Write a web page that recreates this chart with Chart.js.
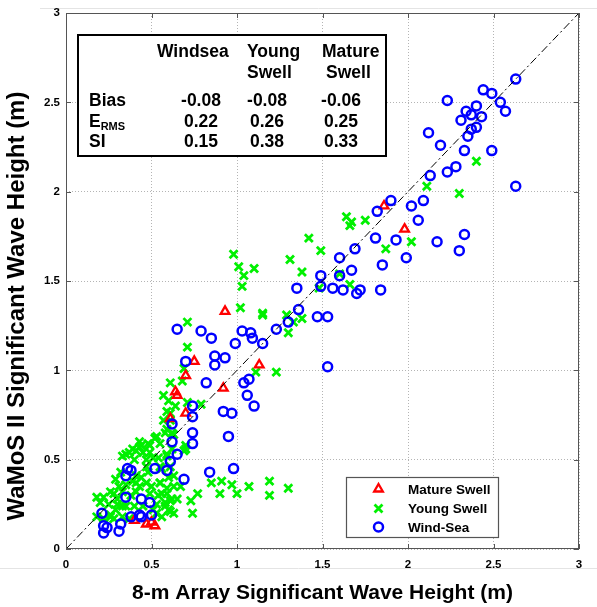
<!DOCTYPE html>
<html lang="en">
<head>
<meta charset="UTF-8">
<title>WaMoS II vs 8-m Array</title>
<script src="https://cdn.jsdelivr.net/npm/chart.js"></script>
<style>
  html, body { margin: 0; padding: 0; background: #fff; }
  #wrap { width: 597px; height: 607px; }
</style>
</head>
<body>
<div id="wrap"><canvas id="myChart" width="597" height="607"></canvas></div>
<script>
  // values, [x, y] in metres
  const windSea = [
    [2.63,2.63],[2.44,2.57],[2.49,2.55],[2.23,2.51],[2.54,2.50],[2.40,2.48],[2.57,2.45],[2.34,2.45],
    [2.37,2.43],[2.43,2.42],[2.31,2.40],[2.40,2.36],[2.37,2.35],[2.12,2.33],[2.35,2.31],[2.19,2.26],
    [2.33,2.23],[2.49,2.23],[2.28,2.14],[2.23,2.11],[2.13,2.09],[2.63,2.03],
    [1.90,1.95],[2.09,1.95],[2.02,1.92],[1.82,1.89],[2.06,1.84],[2.33,1.76],[2.17,1.72],[2.30,1.67],
    [1.81,1.74],[1.93,1.73],[1.69,1.68],[1.60,1.63],[1.99,1.63],[1.85,1.59],[1.67,1.56],[1.60,1.53],
    [1.49,1.53],[1.49,1.47],[1.56,1.46],[1.62,1.45],[1.70,1.43],[1.72,1.45],[1.84,1.45],[1.35,1.46],
    [1.36,1.34],[1.30,1.27],[1.23,1.23],[1.47,1.30],[1.53,1.30],[1.53,1.02],
    [1.15,1.15],[1.03,1.22],[1.08,1.21],[1.09,1.18],[0.99,1.15],[0.85,1.18],[0.79,1.22],[0.65,1.23],
    [0.87,1.08],[0.93,1.07],[0.87,1.03],[0.70,1.05],[0.82,0.93],[1.04,0.93],[1.07,0.95],[1.06,0.86],
    [1.10,0.80],[0.74,0.80],[0.92,0.77],[0.97,0.76],[0.95,0.63],[0.74,0.74],[0.62,0.70],[0.74,0.65],
    [0.74,0.59],[0.62,0.60],[0.65,0.53],[0.61,0.49],[0.59,0.44],[0.52,0.45],[0.84,0.43],[0.98,0.45],
    [0.69,0.39],[0.36,0.45],[0.38,0.44],[0.35,0.41],[0.44,0.28],[0.35,0.29],[0.49,0.26],[0.21,0.20],
    [0.38,0.18],[0.43,0.19],[0.44,0.18],[0.50,0.19],[0.32,0.14],[0.31,0.10],[0.22,0.13],[0.24,0.12],
    [0.22,0.09]
  ];
  const youngSwell = [
    [2.40,2.17],[2.11,2.03],[2.30,1.99],[1.64,1.86],[1.67,1.83],[1.66,1.81],[1.75,1.84],[1.42,1.74],
    [1.49,1.67],[1.87,1.68],[2.02,1.72],[1.38,1.55],[1.60,1.54],[1.66,1.48],[1.48,1.46],[1.31,1.62],
    [1.29,1.31],[1.33,1.27],[1.38,1.29],[1.30,1.21],[1.15,1.32],[1.15,1.31],[1.11,0.99],[1.23,0.99],
    [0.98,1.65],[1.01,1.58],[1.10,1.57],[1.04,1.53],[1.03,1.47],[1.02,1.35],[0.71,1.27],[0.71,1.13],
    [0.69,1.01],[0.61,0.93],[0.68,0.94],[0.57,0.86],[0.60,0.83],[0.64,0.80],[0.71,0.82],[0.79,0.81],
    [0.59,0.77],[0.61,0.72],[0.58,0.65],[0.63,0.64],[0.52,0.62],[0.48,0.59],[0.44,0.58],[0.41,0.55],
    [0.35,0.53],[0.70,0.58],[0.69,0.55],[0.59,0.52],
    [0.85,0.37],[0.91,0.38],[0.97,0.36],[0.90,0.31],[1.00,0.31],[1.07,0.35],[1.19,0.38],[1.19,0.30],
    [1.30,0.34],[0.77,0.31],[0.73,0.27],[0.74,0.20],[0.65,0.28],[0.58,0.24],[0.61,0.27],[0.56,0.31],
    [0.61,0.21],
    [0.53,0.63],[0.49,0.58],[0.43,0.57],[0.37,0.54],[0.33,0.52],[0.40,0.50],[0.47,0.50],[0.54,0.51],
    [0.59,0.53],[0.62,0.56],[0.61,0.46],[0.56,0.45],[0.48,0.43],[0.44,0.40],[0.39,0.38],[0.35,0.36],
    [0.43,0.35],[0.50,0.35],[0.55,0.37],[0.60,0.40],[0.63,0.35],[0.59,0.31],[0.54,0.30],[0.49,0.31],
    [0.41,0.32],[0.33,0.32],[0.28,0.31],[0.22,0.29],[0.20,0.26],[0.25,0.25],[0.30,0.25],[0.35,0.24],
    [0.40,0.24],[0.53,0.25],[0.58,0.26],[0.62,0.28],[0.60,0.22],[0.26,0.19],[0.28,0.17],[0.22,0.17],
    [0.18,0.18],[0.33,0.18],[0.37,0.17],[0.53,0.20],[0.56,0.18],[0.63,0.20],
    [0.55,0.59],[0.49,0.54],[0.62,0.65],[0.59,0.67],[0.61,0.76],[0.57,0.72],[0.18,0.29],[0.29,0.22],
    [0.26,0.18],[0.70,0.56],
    [0.43,0.60],[0.47,0.46],[0.41,0.37],[0.31,0.35],[0.26,0.32],[0.55,0.37],[0.63,0.41],[0.67,0.35],
    [0.51,0.22],[0.45,0.24],[0.33,0.24],[0.30,0.28],[0.38,0.30],[0.55,0.46],[0.51,0.51],[0.45,0.54],
    [0.39,0.56],[0.47,0.37],[0.59,0.34],[0.32,0.43],[0.29,0.39],[0.41,0.41]
  ];
  const matureSwell = [
    [1.86,1.92],[1.98,1.79],[0.93,1.33],[0.75,1.05],[1.13,1.03],[0.70,0.97],[0.64,0.88],[0.65,0.86],
    [0.92,0.90],[0.70,0.76],[0.61,0.73],[0.40,0.16],[0.47,0.14],[0.50,0.15],[0.52,0.13]
  ];
  const oneToOne = [[0, 0], [3, 3]];

  const seriesNames = ['Mature Swell', 'Young Swell', 'Wind-Sea'];
  const axisTicks = [0, 0.5, 1, 1.5, 2, 2.5, 3];
  const xTitle = '8-m Array Significant Wave Height (m)';
  const yTitle = 'WaMoS II Significant Wave Height (m)';

  // statistics table
  const tableHeads = [['Windsea'], ['Young', 'Swell'], ['Mature', 'Swell']];
  const rowNames = ['Bias', 'E', 'SI'];
  const biasVals = ['-0.08', '-0.08', '-0.06'];
  const ermsVals = ['0.22', '0.26', '0.25'];
  const siVals = ['0.15', '0.38', '0.33'];

  const FONT = '"Liberation Sans", Arial, sans-serif';
  const toXY = arr => arr.map(p => ({ x: p[0], y: p[1] }));

  const styles = {
    mature: { style: 'triangle', color: '#ff0000', r: 5, w: 2.3 },
    young: { style: 'crossRot', color: '#00f000', r: 5.6, w: 2.8 },
    wind: { style: 'circle', color: '#0000ff', r: 4.5, w: 2.5 }
  };

  function drawMarker(ctx, s, x, y) {
    ctx.save();
    ctx.strokeStyle = s.color;
    ctx.lineWidth = s.w;
    ctx.beginPath();
    if (s.style === 'circle') {
      ctx.arc(x, y, s.r, 0, Math.PI * 2);
    } else if (s.style === 'triangle') {
      for (let k = 0; k < 3; k++) {
        const a = k * 2 * Math.PI / 3;
        const px = x + Math.sin(a) * s.r, py = y - Math.cos(a) * s.r;
        k === 0 ? ctx.moveTo(px, py) : ctx.lineTo(px, py);
      }
      ctx.closePath();
    } else {
      const d = s.r * Math.SQRT1_2;
      ctx.moveTo(x - d, y - d); ctx.lineTo(x + d, y + d);
      ctx.moveTo(x + d, y - d); ctx.lineTo(x - d, y + d);
    }
    ctx.stroke();
    ctx.restore();
  }

  const extras = {
    id: 'extras',
    beforeDraw(chart) {
      const ctx = chart.ctx;
      ctx.save();
      ctx.strokeStyle = '#e4e4e4';
      ctx.lineWidth = 1;
      ctx.beginPath();
      ctx.moveTo(40, 8.5); ctx.lineTo(597, 8.5);
      ctx.moveTo(0, 568.5); ctx.lineTo(597, 568.5);
      ctx.stroke();
      ctx.restore();
    },
    afterDraw(chart) {
      const ctx = chart.ctx;
      const a = chart.chartArea;
      const xs = chart.scales.x, ys = chart.scales.y;

      // frame and inward ticks
      ctx.save();
      ctx.strokeStyle = '#555';
      ctx.lineWidth = 1;
      ctx.strokeRect(a.left + 0.5, a.top + 0.5, a.right - a.left - 1, a.bottom - a.top - 1);
      ctx.beginPath();
      axisTicks.forEach(t => {
        const px = Math.round(xs.getPixelForValue(t)) + 0.5;
        const py = Math.round(ys.getPixelForValue(t)) + 0.5;
        ctx.moveTo(px, a.bottom); ctx.lineTo(px, a.bottom - 5);
        ctx.moveTo(px, a.top); ctx.lineTo(px, a.top + 5);
        ctx.moveTo(a.left, py); ctx.lineTo(a.left + 5, py);
        ctx.moveTo(a.right, py); ctx.lineTo(a.right - 5, py);
      });
      ctx.stroke();
      ctx.restore();

      // y axis title (sits a little below the axis centre in the original)
      ctx.save();
      ctx.translate(24, 306);
      ctx.rotate(-Math.PI / 2);
      ctx.font = 'bold 24px ' + FONT;
      ctx.fillStyle = '#000';
      ctx.textAlign = 'center';
      ctx.textBaseline = 'alphabetic';
      ctx.fillText(yTitle, 0, 0);
      ctx.restore();

      // statistics table
      ctx.save();
      ctx.fillStyle = '#fff';
      ctx.fillRect(77, 34, 310, 123);
      ctx.strokeStyle = '#000';
      ctx.lineWidth = 2;
      ctx.strokeRect(78, 35, 308, 121);
      ctx.fillStyle = '#000';
      ctx.textBaseline = 'alphabetic';
      ctx.font = 'bold 17.5px ' + FONT;
      ctx.textAlign = 'left';
      const headX = [157, 247, 322];
      tableHeads.forEach((h, i) => {
        ctx.fillText(h[0], headX[i], 57);
        if (h[1]) ctx.fillText(h[1], i === 2 ? 326 : 247, 78);
      });
      const rowY = [106, 127, 147];
      ctx.fillText(rowNames[0], 89, rowY[0]);
      ctx.fillText(rowNames[1], 89, rowY[1]);
      const eW = ctx.measureText(rowNames[1]).width;
      ctx.fillText(rowNames[2], 89, rowY[2]);
      ctx.font = 'bold 11px ' + FONT;
      ctx.fillText('RMS', 89 + eW, rowY[1] + 3);
      ctx.font = 'bold 17.5px ' + FONT;
      ctx.textAlign = 'center';
      const colX = [201, 267, 341];
      [biasVals, ermsVals, siVals].forEach((vals, r) => {
        vals.forEach((v, c) => ctx.fillText(v, colX[c], rowY[r]));
      });
      ctx.restore();

      // legend
      ctx.save();
      ctx.fillStyle = '#fff';
      ctx.fillRect(346, 477, 153, 61);
      ctx.strokeStyle = '#555';
      ctx.lineWidth = 1.2;
      ctx.strokeRect(346.5, 477.5, 152, 60);
      const legY = [489, 508.5, 527];
      const legStyles = [styles.mature, styles.young, styles.wind];
      ctx.font = 'bold 13.5px ' + FONT;
      ctx.fillStyle = '#000';
      ctx.textBaseline = 'middle';
      ctx.textAlign = 'left';
      seriesNames.forEach((n, i) => {
        drawMarker(ctx, legStyles[i], 378.5, legY[i]);
        ctx.fillText(n, 408, legY[i] + 1);
      });
      ctx.restore();
    }
  };

  const tickFont = { family: FONT, size: 11.5, weight: 'bold' };
  const ctx = document.getElementById('myChart').getContext('2d');
  new Chart(ctx, {
    type: 'scatter',
    data: {
      datasets: [
        {
          label: '1:1',
          data: toXY(oneToOne),
          showLine: true,
          borderColor: '#000',
          borderWidth: 1,
          borderDash: [8, 3, 2, 3],
          pointRadius: 0
        },
        {
          label: seriesNames[2],
          data: toXY(windSea),
          pointStyle: 'circle',
          pointRadius: styles.wind.r,
          pointBorderWidth: styles.wind.w,
          pointBorderColor: styles.wind.color,
          pointBackgroundColor: 'rgba(0,0,0,0)'
        },
        {
          label: seriesNames[0],
          data: toXY(matureSwell),
          pointStyle: 'triangle',
          pointRadius: styles.mature.r,
          pointBorderWidth: styles.mature.w,
          pointBorderColor: styles.mature.color,
          pointBackgroundColor: 'rgba(0,0,0,0)'
        },
        {
          label: seriesNames[1],
          data: toXY(youngSwell),
          pointStyle: 'crossRot',
          pointRadius: styles.young.r,
          pointBorderWidth: styles.young.w,
          pointBorderColor: styles.young.color,
          pointBackgroundColor: styles.young.color
        }
      ]
    },
    options: {
      responsive: false,
      animation: false,
      layout: { padding: { left: 0, top: 13, right: 18, bottom: 0 } },
      plugins: { legend: { display: false }, tooltip: { enabled: false } },
      scales: {
        x: {
          type: 'linear', min: 0, max: 3,
          afterBuildTicks: s => { s.ticks = axisTicks.map(v => ({ value: v })); },
          afterFit: s => { s.height = 58; },
          grid: { color: '#b4b4b4', lineWidth: 1, drawTicks: false },
          border: { display: false, dash: [1, 2] },
          ticks: { color: '#000', padding: 9, maxRotation: 0, font: tickFont, callback: v => String(v) },
          title: { display: true, text: xTitle, color: '#000',
                   padding: { top: 0, bottom: 1 }, font: { family: FONT, size: 21, weight: 'bold' } }
        },
        y: {
          type: 'linear', min: 0, max: 3,
          afterBuildTicks: s => { s.ticks = axisTicks.map(v => ({ value: v })); },
          afterFit: s => { s.width = 66; },
          grid: { color: '#b4b4b4', lineWidth: 1, drawTicks: false },
          border: { display: false, dash: [1, 2] },
          ticks: { color: '#000', padding: 6, font: tickFont, callback: v => String(v) },
          title: { display: false, text: yTitle }
        }
      }
    },
    plugins: [extras]
  });
</script>
</body>
</html>
